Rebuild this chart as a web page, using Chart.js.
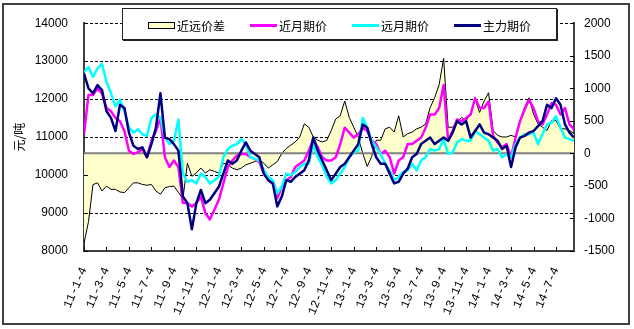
<!DOCTYPE html>
<html lang="zh-CN">
<head>
    <meta charset="UTF-8">
    <title>近远月价差</title>
    <style>
        body {
            margin: 0;
            background: #fff;
        }
        .wrap {
            position: relative;
            width: 634px;
            height: 329px;
        }
        canvas {
            position: absolute;
            left: 0;
            top: 0;
        }
        .frame {
            position: absolute;
            left: 2px;
            top: 3px;
            width: 628px;
            height: 322px;
            border: 2px solid #404040;
            box-sizing: border-box;
            pointer-events: none;
        }
        .legend {
            position: absolute;
            left: 122px;
            top: 8px;
            width: 435px;
            height: 32px;
            box-sizing: border-box;
            border: 1px solid #222;
            box-shadow: 1px 1px 0 #222;
            background: #fff;
            display: flex;
            align-items: center;
            padding: 3px 0 0 25px;
            font-family: "Noto Sans CJK SC", sans-serif;
            font-size: 12px;
            line-height: 14px;
            color: #000;
        }
        .item {
            display: flex;
            align-items: center;
            width: 103px;
        }
        .mark {
            width: 27px;
            height: 3px;
            margin-right: 2px;
        }
        .mark.box {
            height: 7px;
            box-sizing: border-box;
            border: 1px solid #000;
        }
    </style>
</head>
<body>
    <div class="wrap">
        <canvas id="spreadChart" width="634" height="329"></canvas>
        <div class="legend" id="legend"></div>
        <div class="frame"></div>
    </div>

    <script src="https://cdn.jsdelivr.net/npm/chart.js"></script>
    <script>
        // 横轴刻度（每两个月一个），每个刻度间隔 5 个数据点
        const tickDates = ['11-1-4', '11-3-4', '11-5-4', '11-7-4', '11-9-4', '11-11-4',
            '12-1-4', '12-3-4', '12-5-4', '12-7-4', '12-9-4', '12-11-4',
            '13-1-4', '13-3-4', '13-5-4', '13-7-4', '13-9-4', '13-11-4',
            '14-1-4', '14-3-4', '14-5-4', '14-7-4'];
        const pointsPerTick = 5;

        const seriesNames = ['近远价差', '近月期价', '远月期价', '主力期价'];

        // 近远价差（右轴）
        const spread = [
            -1380, -1050, -480, -453, -578, -503, -553, -553, -593, -603,
            -528, -453, -453, -478, -490, -478, -578, -628, -528, -510,
            -503, -600, -700, -150, -352, -300, -226, -302, -252, -277,
            -302, -151, -176, -226, -252, -226, -176, -151, -126, -100,
            -151, -226, -176, -126, 0, 75, 126, 176, 252, 453,
            402, 252, 201, 176, 200, 352, 528, 578, 805, 553,
            402, 252, 0, -201, -50, 201, 201, 377, 402, 327,
            578, 252, 302, 327, 377, 402, 453, 704, 855, 1056,
            1459, 402, 402, 478, 553, 503, 604, 830, 629, 805,
            931, 352, 277, 252, 252, 277, 252, 503, 704, 855,
            604, 453, 402, 352, 503, 503, 377, 377, 352, 302
        ];

        // 近月期价（左轴）
        const nearPrice = [
            11075, 12111, 12111, 12284, 12154, 11765, 11679, 11506, 11420, 11161,
            10643, 10557, 10600, 10686, 10470, 10902, 11161, 11506, 10470, 10211,
            10384, 10211, 9261, 9261, 9175, 9261, 9434, 9002, 8830, 9089,
            9348, 9780, 10211, 10384, 10514, 10557, 10557, 10470, 10427, 10341,
            10038, 9866, 9780, 9391, 9693, 9866, 9952, 10211, 10297, 10384,
            10643, 10945, 10729, 10470, 10384, 10384, 10470, 10816, 11248, 11118,
            10988, 11075, 11248, 11161, 10902, 10816, 10557, 10643, 10470, 10038,
            10384, 10470, 10816, 10816, 10902, 10988, 11248, 11593, 11593, 11765,
            12370, 10902, 11161, 11463, 11420, 11506, 11593, 12024, 11765, 11765,
            11938, 11032, 10859, 10729, 10816, 10470, 10988, 11420, 11722, 11981,
            11765, 11420, 11334, 11593, 11895, 11852, 11593, 11765, 11334, 11204
        ];

        // 远月期价（左轴）
        const farPrice = [
            12715, 12845, 12586, 12802, 12931, 12456, 12154, 11809, 11981, 11679,
            11248, 11118, 11204, 11075, 11032, 11506, 11593, 11506, 10988, 10816,
            10902, 11463, 10038, 9823, 9866, 9780, 10038, 9952, 9780, 9866,
            9952, 10470, 10686, 10772, 10816, 10945, 10816, 10470, 10427, 10384,
            10125, 9952, 9866, 9520, 9693, 10038, 9995, 10082, 10211, 10297,
            10297, 10816, 10470, 10254, 9952, 9780, 9866, 10038, 10211, 10470,
            10600, 10643, 11506, 11248, 10902, 10729, 10557, 10297, 10125, 9866,
            9952, 10082, 10125, 10297, 10125, 10384, 10470, 10686, 10643, 10686,
            10945, 10557, 10600, 10859, 10945, 10902, 10902, 11161, 11075, 10988,
            10902, 10643, 10686, 10470, 10557, 10470, 10816, 10988, 11075, 11075,
            11118, 10816, 11075, 11334, 11377, 11550, 11248, 10988, 10945, 10902
        ];

        // 主力期价（左轴）
        const mainPrice = [
            12672, 12284, 12154, 12370, 12240, 11679, 11506, 11161, 11852, 11765,
            11118, 10772, 10686, 10729, 10470, 10816, 11248, 12154, 10988, 10945,
            10816, 10643, 9434, 9261, 8571, 9261, 9607, 9261, 9348, 9520,
            9693, 10038, 10384, 10297, 10384, 10643, 10859, 10643, 10557, 10470,
            10038, 9866, 9780, 9175, 9434, 9866, 9823, 9952, 10038, 10125,
            10384, 10988, 10643, 10384, 10125, 9866, 10038, 10211, 10297, 10470,
            10643, 10816, 11334, 11248, 10816, 10470, 10297, 10297, 10038, 9780,
            9823, 10038, 10168, 10470, 10557, 10816, 10902, 10988, 10816, 10902,
            10988, 10902, 11118, 11420, 11334, 11420, 10988, 11161, 11334, 11118,
            11075, 10988, 10902, 10686, 10772, 10211, 10729, 10988, 11032, 11118,
            11161, 11291, 11420, 11852, 11765, 12024, 11852, 11334, 11118, 10988
        ];

        const xy = arr => arr.map((v, i) => ({ x: i, y: v }));
        const tickPos = tickDates.map((_, k) => k * pointsPerTick);

        const axisColor = '#404040';
        const numFont = { family: 'Liberation Sans', size: 12 };

        // 价差基线 + 内侧刻度线
        const extras = {
            id: 'extras',
            afterDatasetDraw(chart, args) {
                if (args.index !== 0) return;
                const { ctx, chartArea } = chart;
                const y0 = chart.scales.y1.getPixelForValue(0);
                ctx.save();
                ctx.strokeStyle = '#808080';
                ctx.lineWidth = 2;
                ctx.beginPath();
                ctx.moveTo(chartArea.left, y0);
                ctx.lineTo(chartArea.right, y0);
                ctx.stroke();
                ctx.restore();
            },
            afterDatasetsDraw(chart) {
                const { ctx, chartArea, scales } = chart;
                const { left, right, bottom } = chartArea;
                ctx.save();
                ctx.strokeStyle = '#000';
                ctx.lineWidth = 1;
                ctx.beginPath();
                scales.y.ticks.forEach(t => {
                    const p = Math.round(scales.y.getPixelForValue(t.value)) + 0.5;
                    ctx.moveTo(left, p);
                    ctx.lineTo(left + 4, p);
                });
                scales.y1.ticks.forEach(t => {
                    const p = Math.round(scales.y1.getPixelForValue(t.value)) + 0.5;
                    ctx.moveTo(right, p);
                    ctx.lineTo(right - 4, p);
                });
                scales.x.ticks.forEach(t => {
                    const p = Math.round(scales.x.getPixelForValue(t.value)) + 0.5;
                    ctx.moveTo(p, bottom);
                    ctx.lineTo(p, bottom - 4);
                });
                ctx.stroke();
                ctx.restore();
            }
        };

        const lineBase = { pointRadius: 0, tension: 0, borderJoinStyle: 'round', borderWidth: 2.5, yAxisID: 'y' };

        const chart = new Chart(document.getElementById('spreadChart'), {
            type: 'line',
            data: {
                datasets: [
                    {
                        label: seriesNames[0],
                        data: xy(spread),
                        yAxisID: 'y1',
                        borderColor: '#000',
                        borderWidth: 1,
                        backgroundColor: '#FFFFCC',
                        fill: 'origin',
                        pointRadius: 0,
                        tension: 0,
                        order: 4
                    },
                    { ...lineBase, label: seriesNames[1], data: xy(nearPrice), borderColor: '#FF00FF', backgroundColor: '#FF00FF', order: 3 },
                    { ...lineBase, label: seriesNames[2], data: xy(farPrice), borderColor: '#00FFFF', backgroundColor: '#00FFFF', order: 2 },
                    { ...lineBase, label: seriesNames[3], data: xy(mainPrice), borderColor: '#000080', backgroundColor: '#000080', order: 1 }
                ]
            },
            options: {
                responsive: false,
                animation: false,
                layout: { padding: { top: 19, left: 0, right: 0, bottom: 0 } },
                plugins: {
                    legend: { display: false },
                    tooltip: { enabled: false }
                },
                scales: {
                    x: {
                        type: 'linear',
                        min: 0,
                        max: spread.length - 1,
                        afterBuildTicks: s => { s.ticks = tickPos.map(v => ({ value: v })); },
                        afterFit: s => { s.height = 78; },
                        ticks: {
                            autoSkip: false,
                            minRotation: 67,
                            maxRotation: 67,
                            padding: 6,
                            color: '#000',
                            font: { family: 'Liberation Mono', size: 12 },
                            callback: v => tickDates[tickPos.indexOf(v)]
                        },
                        grid: { display: false },
                        border: { color: axisColor, width: 2 }
                    },
                    y: {
                        position: 'left',
                        min: 8000,
                        max: 14000,
                        afterFit: s => { s.width = 84; },
                        ticks: { stepSize: 1000, padding: 16, color: '#000', font: numFont, callback: v => String(v) },
                        grid: { drawTicks: false, color: '#000', lineWidth: 1 },
                        border: { color: axisColor, width: 2, dash: [3, 2] },
                        title: {
                            display: true,
                            text: '元/吨',
                            color: '#000',
                            font: { family: 'Noto Sans CJK SC', size: 12 },
                            padding: { top: 12, bottom: 0 }
                        }
                    },
                    y1: {
                        position: 'right',
                        min: -1500,
                        max: 2000,
                        afterFit: s => { s.width = 60; },
                        ticks: { stepSize: 500, padding: 10, color: '#000', font: numFont, callback: v => String(v) },
                        grid: { drawOnChartArea: false, drawTicks: false },
                        border: { color: axisColor, width: 2 }
                    }
                }
            },
            plugins: [extras]
        });

        // 图例（Excel 样式的方框）
        const legend = document.getElementById('legend');
        chart.data.datasets.forEach((ds, i) => {
            const item = document.createElement('div');
            item.className = 'item';
            const mark = document.createElement('span');
            mark.className = i === 0 ? 'mark box' : 'mark';
            mark.style.background = ds.backgroundColor;
            const text = document.createElement('span');
            text.textContent = ds.label;
            item.appendChild(mark);
            item.appendChild(text);
            legend.appendChild(item);
        });
    </script>
</body>
</html>
